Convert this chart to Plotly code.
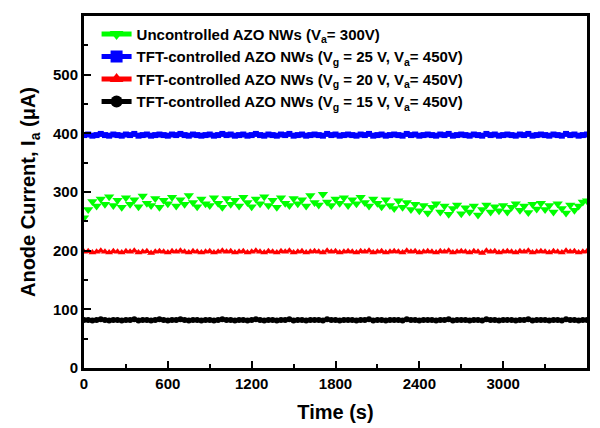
import plotly.graph_objects as go

time_s = [i * 30 for i in range(121)]

green_uncontrolled = [
    256, 270, 284, 276, 288, 279, 292, 277, 286, 274,
    290, 279, 287, 275, 293, 281, 277, 289, 274, 286,
    280, 291, 276, 287, 279, 294, 282, 275, 288, 280,
    277, 290, 281, 274, 289, 279, 286, 276, 291, 282,
    275, 288, 280, 292, 277, 286, 274, 290, 281, 277,
    289, 280, 287, 276, 294, 282, 278, 296, 283, 277,
    288, 281, 290, 277, 287, 280, 291, 282, 276, 288,
    281, 275, 287, 277, 272, 285, 274, 282, 270, 279,
    268, 277, 264, 274, 280, 266, 276, 262, 272, 278,
    263, 273, 266, 276, 261, 270, 278, 266, 275, 268,
    277, 266, 274, 280, 269, 276, 265, 279, 271, 281,
    270, 277, 266, 280, 272, 264, 278, 269, 276, 283,
    285,
]

blue_vg25 = [
    397, 398, 396, 397, 399, 397, 396, 398, 397, 396,
    398, 397, 399, 396, 397, 398, 396, 397, 398, 397,
    396, 398, 397, 399, 397, 396, 398, 397, 396, 397,
    398, 396, 397, 399, 397, 398, 396, 397, 398, 396,
    397, 399, 397, 396, 398, 397, 396, 398, 397, 399,
    396, 397, 398, 396, 397, 398, 397, 396, 399, 397,
    398, 396, 397, 398, 397, 396, 398, 397, 399, 396,
    397, 398, 396, 397, 398, 397, 396, 399, 397, 398,
    396, 397, 398, 397, 396, 398, 397, 399, 396, 397,
    398, 397, 396, 398, 397, 396, 399, 397, 398, 396,
    397, 398, 397, 396, 398, 397, 399, 396, 397, 398,
    397, 396, 398, 397, 396, 399, 397, 398, 396, 397,
    398,
]

red_vg20 = [
    198, 199, 197, 198, 200, 198, 197, 199, 198, 197,
    199, 198, 200, 197, 198, 199, 196, 198, 199, 198,
    197, 199, 198, 200, 198, 197, 199, 198, 197, 198,
    199, 197, 198, 200, 198, 199, 197, 198, 199, 197,
    198, 200, 198, 197, 199, 198, 197, 199, 198, 200,
    197, 198, 199, 197, 198, 199, 198, 197, 200, 198,
    199, 197, 198, 199, 198, 197, 199, 198, 200, 197,
    198, 199, 197, 198, 199, 198, 197, 200, 198, 199,
    197, 198, 199, 198, 197, 199, 198, 200, 197, 198,
    199, 198, 197, 199, 198, 196, 200, 198, 199, 197,
    198, 199, 198, 197, 199, 198, 200, 197, 198, 199,
    198, 197, 199, 198, 197, 200, 198, 199, 197, 198,
    199,
]

black_vg15 = [
    82, 82, 81, 82, 83, 82, 81, 82, 82, 81,
    82, 82, 83, 81, 82, 82, 81, 82, 83, 82,
    81, 82, 82, 83, 82, 81, 82, 82, 81, 82,
    82, 81, 82, 83, 82, 82, 81, 82, 82, 81,
    82, 83, 82, 81, 82, 82, 81, 82, 82, 83,
    81, 82, 82, 81, 82, 82, 82, 81, 83, 82,
    82, 81, 82, 82, 82, 81, 82, 82, 83, 81,
    82, 82, 81, 82, 82, 82, 81, 83, 82, 82,
    81, 82, 82, 82, 81, 82, 82, 83, 81, 82,
    82, 82, 81, 82, 82, 81, 83, 82, 82, 81,
    82, 82, 82, 81, 82, 82, 83, 81, 82, 82,
    82, 81, 82, 82, 81, 83, 82, 82, 81, 82,
    82,
]

series_names = [
    "<b>Uncontrolled AZO NWs (V<sub>a</sub>= 300V)</b>",
    "<b>TFT-controlled AZO NWs (V<sub>g</sub> = 25 V, V<sub>a</sub>= 450V)</b>",
    "<b>TFT-controlled AZO NWs (V<sub>g</sub> = 20 V, V<sub>a</sub>= 450V)</b>",
    "<b>TFT-controlled AZO NWs (V<sub>g</sub> = 15 V, V<sub>a</sub>= 450V)</b>",
]

FONT = "Liberation Sans, Arial, sans-serif"

fig = go.Figure()
styles = [
    (green_uncontrolled, "#00FF00", "triangle-down", 9),
    (blue_vg25, "#0000FF", "square", 6),
    (red_vg20, "#FF0000", "triangle-up", 7),
    (black_vg15, "#000000", "circle", 6),
]
for name, (vals, col, sym, size) in zip(series_names, styles):
    if col == "#00FF00":
        fig.add_trace(go.Scatter(
            x=time_s, y=vals, name=name, mode="markers", showlegend=False,
            legendgroup=name,
            marker=dict(color=col, symbol=sym, size=size, line=dict(width=0)),
        ))
        fig.add_trace(go.Scatter(
            x=[None], y=[None], name=name, mode="lines+markers", legendgroup=name,
            line=dict(color=col, width=2),
            marker=dict(color=col, symbol=sym, size=size, line=dict(width=0)),
        ))
    else:
        fig.add_trace(go.Scatter(
            x=time_s, y=vals, name=name, mode="lines+markers",
            line=dict(color=col, width=2),
            marker=dict(color=col, symbol=sym, size=size, line=dict(width=0)),
        ))

axis_common = dict(
    showline=True, linecolor="black", linewidth=3, mirror=True,
    ticks="inside", ticklen=7, tickwidth=2, tickcolor="black",
    showgrid=False, zeroline=False,
    tickprefix="<b>", ticksuffix="</b>",
    tickfont=dict(family=FONT, size=15, color="black"),
)

# the page body adds an 8px offset, so the figure is 8px smaller and shifted accordingly
fig.update_layout(
    width=592, height=420,
    margin=dict(l=76, r=13, t=8, b=60, autoexpand=False),
    paper_bgcolor="white", plot_bgcolor="white",
    font=dict(family=FONT, color="black"),
    xaxis=dict(
        range=[0, 3600], dtick=600, tick0=0,
        minor=dict(ticks="inside", ticklen=4, tickwidth=2, dtick=300, tickcolor="black"),
        title=dict(text="<b>Time (s)</b>", font=dict(family=FONT, size=20), standoff=14),
        **axis_common,
    ),
    yaxis=dict(
        range=[0, 600], dtick=100, tick0=0,
        minor=dict(ticks="inside", ticklen=4, tickwidth=2, dtick=50, tickcolor="black"),
        title=dict(text="<b>Anode Current, I<sub>a</sub> (μA)</b>", font=dict(family=FONT, size=20), standoff=12),
        **axis_common,
    ),
    legend=dict(
        x=0.025, y=0.995, xanchor="left", yanchor="top",
        bgcolor="rgba(0,0,0,0)", borderwidth=0,
        font=dict(family=FONT, size=15, color="black"),
        tracegroupgap=0, itemsizing="constant",
    ),
    showlegend=True,
)

fig.write_html("out.html")
